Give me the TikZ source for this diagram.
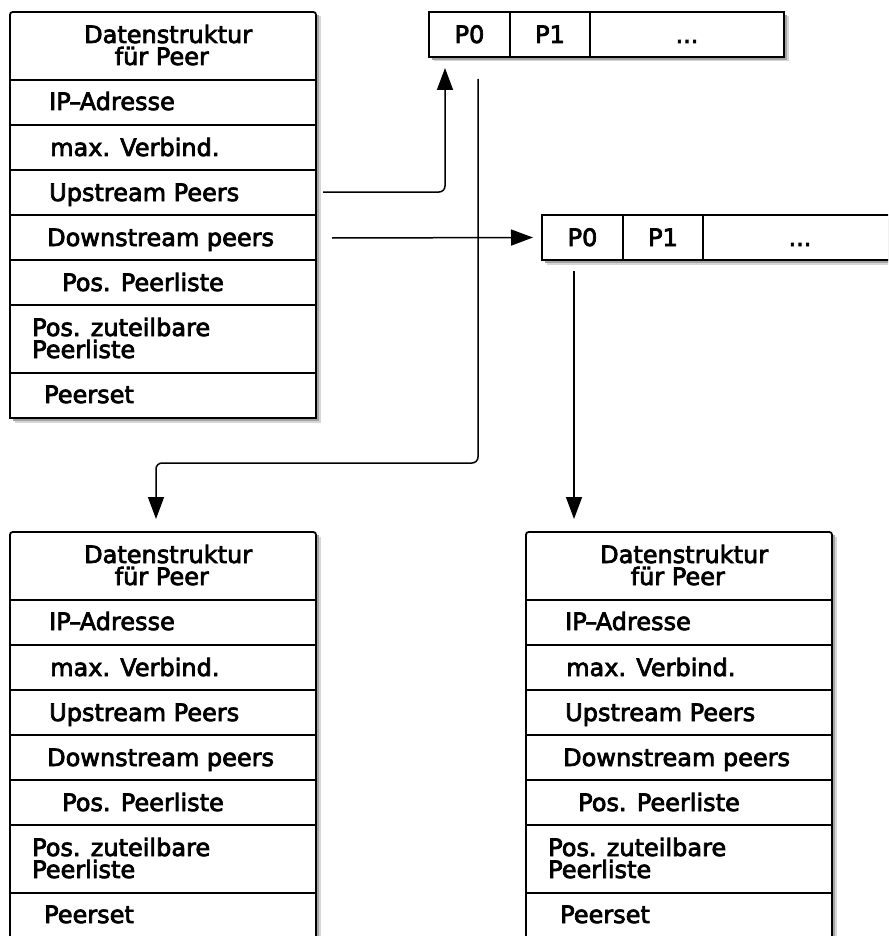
\documentclass[tikz,border=0pt]{standalone}
\usepackage{fontspec}
\setmainfont{DejaVu Sans}[FakeBold=3]
\usetikzlibrary{arrows.meta}

\tikzset{
  boxline/.style={line width=1.8pt},
  conn/.style={line width=1.5pt, -{Triangle[length=22pt,width=16pt]}},
  lbl/.style={anchor=base west, inner sep=0pt, font=\fontsize{24pt}{24pt}\selectfont},
  cell/.style={draw, fill=white, line width=1.8pt, minimum height=45pt,
    inner sep=0pt, outer sep=0pt, text height=17pt, text depth=0pt,
    anchor=north west, font=\fontsize{24pt}{24pt}\selectfont},
  shadowfar/.style={fill=black!16},
  shadownear/.style={fill=black!36},
}

% two stacked lines: baseline distance #1, indent of the second line #2
\newcommand\twolines[4]{\vtop{\baselineskip=#1\lineskiplimit=-\maxdimen
  \hbox{#3}\hbox{\hspace*{#2}#4}}}

% one peer record: #1 name prefix, #2 left edge, #3 top edge
\newcommand\peerrecord[3]{%
  \fill[shadowfar] (#2+4.5,#3+4.5) rectangle (#2+310.5,#3+410.5);
  \fill[shadownear] (#2+3,#3+3) rectangle (#2+309,#3+409);
  \draw[boxline, fill=white] (#2,#3+406) -- (#2,#3+6)
    .. controls (#2,#3) .. (#2+6,#3) -- (#2+300,#3)
    .. controls (#2+306,#3) .. (#2+306,#3+6) -- (#2+306,#3+406) -- cycle;
  \foreach \d in {68,113,158,203,248,293,361}
    \draw[boxline] (#2,#3+\d) -- (#2+306,#3+\d);
  \coordinate (#1-top) at (#2+153,#3);
  \node[lbl] (#1-hd) at (#2+74,#3+31) {\twolines{22pt}{30.5pt}{Datenstruktur}{für Peer}};
  \node[lbl] (#1-ip) at (#2+39,#3+98) {IP\kern-1.5pt–\kern-1.5pt Adresse};
  \node[lbl] (#1-max) at (#2+40,#3+144) {max. Verbind.};
  \node[lbl] (#1-up) at (#2+39,#3+189) {Upstream Peers};
  \node[lbl] (#1-down) at (#2+37,#3+234) {Downstream peers};
  \node[lbl] (#1-pos) at (#2+52,#3+279) {Pos. Peerliste};
  \node[lbl] (#1-zu) at (#2+22,#3+324) {\twolines{22pt}{0pt}{Pos. zuteilbare}{Peerliste}};
  \node[lbl] (#1-set) at (#2+34,#3+391) {Peerset};
}

\begin{document}
\begin{tikzpicture}[x=1pt, y=-1pt]
\useasboundingbox (0,0) rectangle (888,936);
\clip (0,0) rectangle (888,936);

% peer records
\peerrecord{pa}{10}{12}
\peerrecord{pb}{10}{532}
\peerrecord{pc}{526}{532}

% upstream peer list
\fill[shadowfar] (433.5,16.5) rectangle (788.5,61.5);
\fill[shadownear] (432,15) rectangle (787,60);
\node[cell, minimum width=81pt] (a1c0) at (429,12) {P0};
\node[cell, minimum width=80pt] (a1c1) at (510,12) {P1};
\node[cell, minimum width=194pt] (a1c2) at (590,12) {...};

% downstream peer list
\fill[shadowfar] (546.5,219.5) rectangle (901.5,264.5);
\fill[shadownear] (545,218) rectangle (900,263);
\node[cell, minimum width=81pt] (a2c0) at (542,215) {P0};
\node[cell, minimum width=80pt] (a2c1) at (623,215) {P1};
\node[cell, minimum width=194pt] (a2c2) at (703,215) {...};

% connectors
\coordinate (upsrc) at (323,192);
\coordinate (dnsrc) at (332,238);
\draw[conn, rounded corners=6pt] (upsrc) -| ([xshift=-24.5pt,yshift=-11pt]a1c0.south);
\draw[conn] (dnsrc) -- ([xshift=-9pt]a2c0.west);
\draw[conn, rounded corners=6pt] ([xshift=8.5pt,yshift=-22pt]a1c0.south) -- ++(0,384)
  -| ([xshift=-7pt,yshift=13pt]pb-top);
\draw[conn] ([xshift=-8.5pt,yshift=-11pt]a2c0.south) -- ([xshift=-105pt,yshift=13pt]pc-top);
\end{tikzpicture}
\end{document}
